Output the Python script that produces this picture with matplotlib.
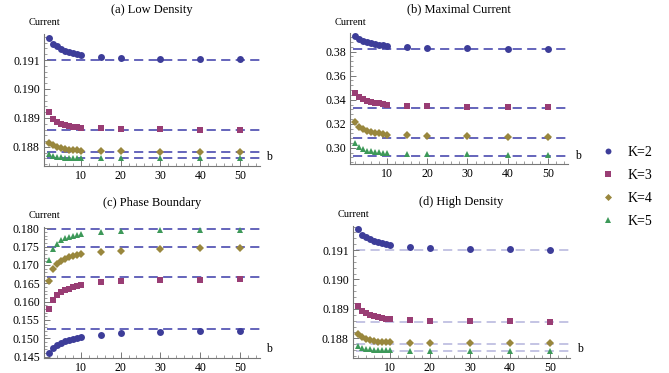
#current vs b for K=2..5, four regimes
import numpy as np
import matplotlib
matplotlib.use('Agg')
from matplotlib import pyplot as plt
from matplotlib.ticker import AutoMinorLocator, FormatStrFormatter, MultipleLocator

plt.rcParams['font.family'] = ['Liberation Serif', 'DejaVu Serif']

b = [2, 3, 4, 5, 6, 7, 8, 9, 10, 15, 20, 30, 40, 50]
labels = ['K=2', 'K=3', 'K=4', 'K=5']

#(a) low density
k2_low = [0.19177, 0.19157, 0.19149, 0.19138, 0.19132, 0.19129, 0.19125, 0.19122, 0.19117, 0.19110, 0.19106, 0.19102, 0.19103, 0.19102]
k3_low = [0.18920, 0.18897, 0.18887, 0.18880, 0.18875, 0.18872, 0.18870, 0.18868, 0.18866, 0.18865, 0.18863, 0.18861, 0.18859, 0.18858]
k4_low = [0.18815, 0.18805, 0.18799, 0.18795, 0.18792, 0.18790, 0.18789, 0.18788, 0.18787, 0.18786, 0.18785, 0.18784, 0.18784, 0.18784]
k5_low = [0.18776, 0.18769, 0.18766, 0.18764, 0.18763, 0.18762, 0.18762, 0.18761, 0.18761, 0.18760, 0.18760, 0.18760, 0.18760, 0.18760]
lim_low = [0.19100, 0.18857, 0.18783, 0.18762]

#(b) maximal current
k2_max = [0.3931, 0.3903, 0.3889, 0.3878, 0.3870, 0.3864, 0.3858, 0.3853, 0.3848, 0.3839, 0.3833, 0.3828, 0.3825, 0.3825]
k3_max = [0.3456, 0.3425, 0.3406, 0.3389, 0.3381, 0.3375, 0.3369, 0.3364, 0.3358, 0.3350, 0.3344, 0.3342, 0.3340, 0.3336]
k4_max = [0.3212, 0.3172, 0.3153, 0.3139, 0.3131, 0.3125, 0.3119, 0.3114, 0.3108, 0.3103, 0.3097, 0.3094, 0.3089, 0.3089]
k5_max = [0.3042, 0.3008, 0.2986, 0.2975, 0.2969, 0.2964, 0.2961, 0.2958, 0.2956, 0.2950, 0.2947, 0.2944, 0.2939, 0.2939]
lim_max = [0.3822, 0.3333, 0.3083, 0.2931]

#(c) phase boundary
k2_pb = [0.1461, 0.1474, 0.1482, 0.1488, 0.1493, 0.1495, 0.1498, 0.1501, 0.1504, 0.1510, 0.1513, 0.1518, 0.1520, 0.1520]
k3_pb = [0.1579, 0.1603, 0.1618, 0.1626, 0.1631, 0.1635, 0.1639, 0.1642, 0.1645, 0.1652, 0.1655, 0.1659, 0.1660, 0.1661]
k4_pb = [0.1656, 0.1689, 0.1703, 0.1711, 0.1716, 0.1721, 0.1725, 0.1727, 0.1730, 0.1736, 0.1739, 0.1743, 0.1745, 0.1746]
k5_pb = [0.1712, 0.1743, 0.1757, 0.1769, 0.1774, 0.1777, 0.1779, 0.1782, 0.1784, 0.1789, 0.1791, 0.1794, 0.1796, 0.1796]
lim_pb = [0.1524, 0.1668, 0.1749, 0.1798]

#(d) high density
k2_high = [0.19172, 0.19152, 0.19143, 0.19137, 0.19132, 0.19128, 0.19124, 0.19121, 0.19116, 0.19109, 0.19106, 0.19102, 0.19102, 0.19101]
k3_high = [0.18911, 0.18892, 0.18885, 0.18880, 0.18875, 0.18871, 0.18869, 0.18867, 0.18865, 0.18861, 0.18860, 0.18858, 0.18858, 0.18857]
k4_high = [0.18815, 0.18806, 0.18798, 0.18794, 0.18791, 0.18789, 0.18788, 0.18787, 0.18786, 0.18785, 0.18784, 0.18783, 0.18783, 0.18783]
k5_high = [0.18773, 0.18766, 0.18763, 0.18762, 0.18761, 0.18760, 0.18760, 0.18759, 0.18759, 0.18758, 0.18758, 0.18758, 0.18758, 0.18758]
lim_high = [0.19100, 0.18855, 0.18782, 0.18758]

colors = ['#3d3d99', '#993d74', '#99873d', '#3d9959']
markers = ['o', 's', 'D', '^']
sizes = [5.0, 4.3, 4.2, 4.9]

fig = plt.figure(figsize=(6.69, 3.73), dpi=100)

panels = [
    ('(a) Low Density', [k2_low, k3_low, k4_low, k5_low], lim_low,
     [0.0658, 0.5550, 0.3229, 0.3539], (0.18734, 0.1919), 0.001, '%.3f', '#3a3aa8'),
    ('(b) Maximal Current', [k2_max, k3_max, k4_max, k5_max], lim_max,
     [0.5232, 0.5595, 0.3259, 0.3512], (0.2862, 0.3953), 0.02, '%.2f', '#3a3aa8'),
    ('(c) Phase Boundary', [k2_pb, k3_pb, k4_pb, k5_pb], lim_pb,
     [0.0658, 0.0410, 0.3229, 0.3512], (0.1447, 0.1804), 0.005, '%.3f', '#3a3aa8'),
    ('(d) High Density', [k2_high, k3_high, k4_high, k5_high], lim_high,
     [0.5277, 0.0410, 0.3244, 0.3540], (0.18734, 0.19183), 0.001, '%.3f', '#b4b4dc'),
]

handles = []
for title, series, lims, pos, ylim, step, fmt, lcol in panels:
    ax = fig.add_axes(pos)
    for yl in lims:
        ax.axhline(yl, xmin=0.015, xmax=1.0, color=lcol, lw=1.1, dashes=(6, 3.5), zorder=1)
    hs = []
    for k in range(4):
        h, = ax.plot(b, series[k], linestyle='none', marker=markers[k], color=colors[k],
                     markersize=sizes[k], markeredgewidth=0, zorder=3)
        hs.append(h)
    handles = hs
    ax.set_xlim(0.8, 55)
    ax.set_ylim(*ylim)
    ax.spines['top'].set_visible(False)
    ax.spines['right'].set_visible(False)
    for s in ['left', 'bottom']:
        ax.spines[s].set_color('#777777')
        ax.spines[s].set_linewidth(0.8)
    ax.xaxis.set_major_locator(MultipleLocator(10))
    ax.xaxis.set_minor_locator(AutoMinorLocator(5))
    ax.yaxis.set_major_locator(MultipleLocator(step))
    ax.yaxis.set_minor_locator(AutoMinorLocator(5))
    ax.yaxis.set_major_formatter(FormatStrFormatter(fmt))
    ax.tick_params(which='both', direction='in', color='#777777', labelsize=8.6, pad=3)
    ax.tick_params(which='major', length=4, width=0.7)
    ax.tick_params(which='minor', length=2, width=0.5)
    ax.set_title(title, fontsize=9, pad=15)
    ax.text(0.0, 1.05, 'Current', transform=ax.transAxes, ha='center', va='bottom', fontsize=7.5)
    ax.text(1.03, 0.02, 'b', transform=ax.transAxes, ha='left', va='bottom', fontsize=8.5)

fig.legend(handles, labels, loc='upper left', bbox_to_anchor=(0.88, 0.642), frameon=False,
           fontsize=10, handletextpad=0.9, labelspacing=0.72, handlelength=1.0, markerscale=0.85)

plt.savefig('out.png', dpi=100)
